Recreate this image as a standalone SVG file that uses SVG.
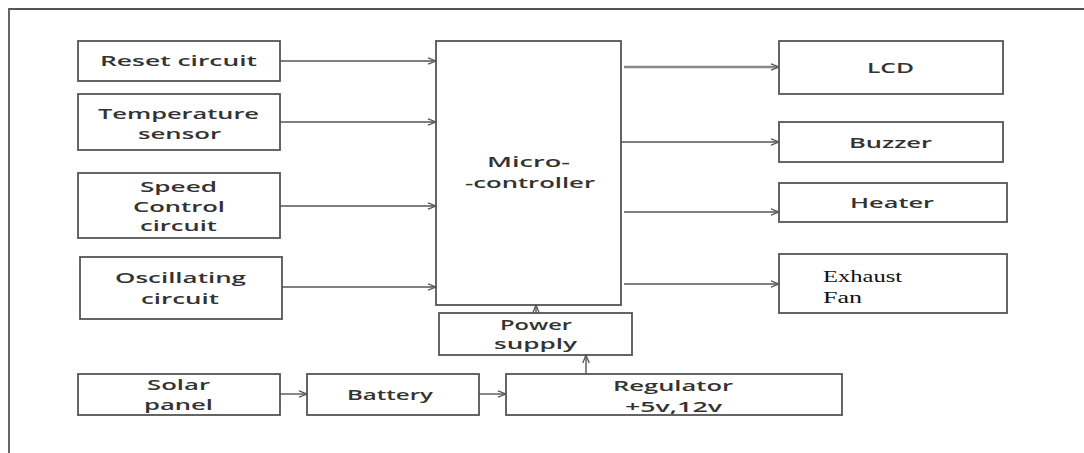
<svg xmlns="http://www.w3.org/2000/svg" width="1084" height="453" viewBox="0 0 1084 453">
<style>
.box{fill:#fff;stroke:#555;stroke-width:1.8}
.t{font-family:"Open Sans","Liberation Sans",sans-serif;font-size:14.5px;font-weight:600;fill:#333;text-anchor:middle}
.s{font-family:"Liberation Serif",serif;font-size:16px;fill:#111}
.c{stroke:#555;stroke-width:1.4;fill:none;marker-end:url(#ah)}
.cw{stroke:#888;stroke-width:2.4;fill:none;marker-end:url(#ah)}
</style>
<defs>
<marker id="ah" markerUnits="userSpaceOnUse" markerWidth="10" markerHeight="8" refX="9" refY="4" orient="auto">
<path d="M1,0.8 L9,4 L1,7.2" fill="none" stroke="#555" stroke-width="1.3"/>
</marker>
</defs>
<rect width="1084" height="453" fill="#fff"/>
<path d="M9,453 V9 H1084" fill="none" stroke="#555" stroke-width="1.8"/>

<g id="reset"><rect class="box" x="78" y="41" width="202" height="40"/><text class="t" x="178.5" y="66" textLength="157" lengthAdjust="spacingAndGlyphs">Reset circuit</text></g>
<g id="temp"><rect class="box" x="78" y="94" width="202" height="56"/><text class="t" x="178.5" y="119" textLength="161" lengthAdjust="spacingAndGlyphs">Temperature</text><text class="t" x="179.5" y="139" textLength="83" lengthAdjust="spacingAndGlyphs">sensor</text></g>
<g id="speed"><rect class="box" x="78" y="173" width="202" height="65"/><text class="t" x="178.5" y="192" textLength="77" lengthAdjust="spacingAndGlyphs">Speed</text><text class="t" x="179" y="212" textLength="92" lengthAdjust="spacingAndGlyphs">Control</text><text class="t" x="178.5" y="231" textLength="77" lengthAdjust="spacingAndGlyphs">circuit</text></g>
<g id="osc"><rect class="box" x="80" y="257" width="202" height="62"/><text class="t" x="180.5" y="283" textLength="131" lengthAdjust="spacingAndGlyphs">Oscillating</text><text class="t" x="180" y="304" textLength="78" lengthAdjust="spacingAndGlyphs">circuit</text></g>
<g id="solar"><rect class="box" x="78" y="374" width="202" height="41"/><text class="t" x="178.5" y="390" textLength="63" lengthAdjust="spacingAndGlyphs">Solar</text><text class="t" x="178.5" y="410" textLength="69" lengthAdjust="spacingAndGlyphs">panel</text></g>
<g id="battery"><rect class="box" x="307" y="374" width="172" height="41"/><text class="t" x="390" y="400" textLength="86" lengthAdjust="spacingAndGlyphs">Battery</text></g>
<g id="regulator"><rect class="box" x="506" y="374" width="336" height="41"/><text class="t" x="673" y="391" textLength="120" lengthAdjust="spacingAndGlyphs">Regulator</text><text class="t" x="673.5" y="412" textLength="97" lengthAdjust="spacingAndGlyphs">+5v,12v</text></g>
<g id="power"><rect class="box" x="439" y="313" width="193" height="42"/><text class="t" x="536" y="330" textLength="72" lengthAdjust="spacingAndGlyphs">Power</text><text class="t" x="535.5" y="349" textLength="83" lengthAdjust="spacingAndGlyphs">supply</text></g>
<g id="micro"><rect class="box" x="436" y="41" width="185" height="264"/><text class="t" x="528.5" y="167" textLength="83" lengthAdjust="spacingAndGlyphs">Micro-</text><text class="t" x="530" y="188" textLength="130" lengthAdjust="spacingAndGlyphs">-controller</text></g>
<g id="lcd"><rect class="box" x="779" y="41" width="224" height="53"/><text class="t" x="890.5" y="73" textLength="47" lengthAdjust="spacingAndGlyphs">LCD</text></g>
<g id="buzzer"><rect class="box" x="779" y="122" width="224" height="40"/><text class="t" x="890.5" y="148" textLength="83" lengthAdjust="spacingAndGlyphs">Buzzer</text></g>
<g id="heater"><rect class="box" x="779" y="183" width="228" height="39"/><text class="t" x="892" y="208" textLength="84" lengthAdjust="spacingAndGlyphs">Heater</text></g>
<g id="fan"><rect class="box" x="779" y="254" width="228" height="59"/><text class="s" x="823" y="282" textLength="79" lengthAdjust="spacingAndGlyphs">Exhaust</text><text class="s" x="823" y="303" textLength="39" lengthAdjust="spacingAndGlyphs">Fan</text></g>

<g id="connectors">
<path class="c" d="M280,61 H436"/>
<path class="c" d="M280,122 H436"/>
<path class="c" d="M280,206 H436"/>
<path class="c" d="M282,287 H436"/>
<path class="cw" d="M624,67 H779"/>
<path class="c" d="M621,142 H779"/>
<path class="c" d="M624,212 H779"/>
<path class="c" d="M624,284 H779"/>
<path class="c" d="M536,313 V305"/>
<path class="c" d="M586,374 V355"/>
<path class="c" d="M280,394 H307"/>
<path class="c" d="M479,394 H506"/>
</g>
</svg>
